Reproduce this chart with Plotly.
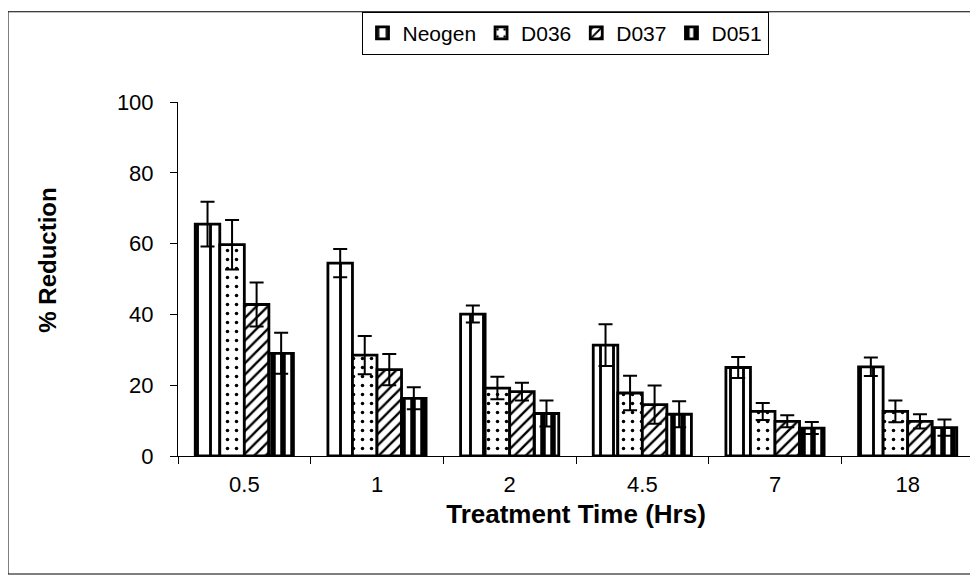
import plotly.graph_objects as go

categories = ["0.5", "1", "2", "4.5", "7", "18"]
neogen = [65.5, 54.5, 40.1, 31.3, 25.0, 25.2]
neogen_err = [6.3, 4.0, 2.4, 5.9, 3.0, 2.6]
d036 = [59.7, 28.5, 19.2, 17.8, 12.6, 12.6]
d036_err = [7.0, 5.4, 3.2, 4.9, 2.4, 3.1]
d037 = [42.8, 24.4, 18.2, 14.5, 9.8, 9.8]
d037_err = [6.2, 4.4, 2.5, 5.4, 1.7, 2.0]
d051 = [29.0, 16.3, 12.0, 11.8, 7.9, 8.0]
d051_err = [5.8, 3.1, 3.7, 3.7, 1.7, 2.3]

OFF = 8  # page body margin
W, H = 978 - OFF, 578 - OFF
L, R, T = 178 - OFF, 4, 99 - OFF
B = H - (456 - OFF)
pw, ph = W - L - R, H - T - B

def px_x(x):
    return (x - OFF - L) / pw

def px_y(y):
    return (H - B - (y - OFF)) / ph

FONT = "Liberation Sans, Arial, sans-serif"

series = [
    ("Neogen", neogen, neogen_err, dict(shape="|", size=13, solidity=0.22)),
    ("D036", d036, d036_err, dict(shape=".", size=9, solidity=0.12)),
    ("D037", d037, d037_err, dict(shape="/", size=8, solidity=0.3)),
    ("D051", d051, d051_err, dict(shape="|", size=10, solidity=0.55)),
]

fig = go.Figure()
for name, vals, errs, pat in series:
    fig.add_trace(go.Bar(
        name=name, x=categories, y=vals,
        marker=dict(color="white", line=dict(color="black", width=2.8),
                    pattern=dict(fgcolor="black", bgcolor="white", fillmode="replace", **pat)),
        error_y=dict(type="data", array=errs, visible=True, color="black", thickness=2, width=7),
    ))

fig.update_layout(
    width=W, height=H,
    margin=dict(l=L, r=R, t=T, b=B),
    paper_bgcolor="white", plot_bgcolor="white",
    barmode="group", bargap=0.26, bargroupgap=0,
    font=dict(family=FONT, size=22, color="black"),
    showlegend=True,
    legend=dict(orientation="h", x=px_x(565), xanchor="center", y=px_y(8), yanchor="top",
                bordercolor="black", borderwidth=1, font=dict(size=21),
                itemwidth=30, tracegroupgap=0),
    xaxis=dict(type="category", showline=True, linecolor="black", linewidth=1,
               ticks="outside", tickson="boundaries", ticklen=7, tickcolor="black",
               ticklabelstandoff=9, tickfont=dict(size=22),
               showgrid=False, zeroline=False,
               title=dict(text="<b>Treatment Time (Hrs)</b>", font=dict(size=26), standoff=8)),
    yaxis=dict(range=[0, 100], tickvals=[0, 20, 40, 60, 80, 100], showline=True,
               linecolor="black", linewidth=1, ticks="outside", ticklen=7, tickcolor="black",
               ticklabelstandoff=12, tickfont=dict(size=22),
               showgrid=False, zeroline=False),
    annotations=[dict(text="<b>% Reduction</b>", xref="paper", yref="paper",
                      x=px_x(48), y=px_y(259), xanchor="center", yanchor="middle",
                      textangle=-90, showarrow=False, font=dict(size=24))],
    shapes=[dict(type="rect", xref="paper", yref="paper",
                 x0=px_x(8), x1=px_x(990), y0=px_y(575), y1=px_y(8),
                 line=dict(color="black", width=1), fillcolor="rgba(0,0,0,0)", layer="below")],
)

fig.write_html("out.html")
